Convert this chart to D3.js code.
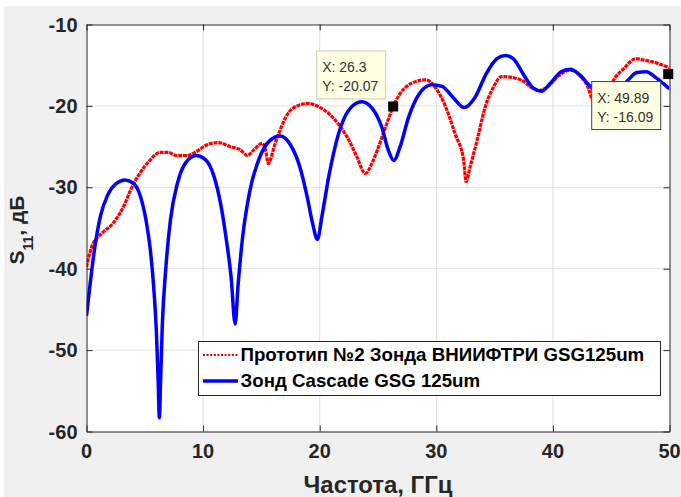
<!DOCTYPE html>
<html><head><meta charset="utf-8">
<script src="https://cdn.jsdelivr.net/npm/d3@7"></script>
<style>
html,body{margin:0;padding:0;background:#fff;}
svg{display:block;}
text{font-family:"Liberation Sans",Arial,sans-serif;}
</style></head>
<body>
<svg id="c" width="681" height="497"></svg>
<script>
// ---- data ----
const xTicks = [0, 10, 20, 30, 40, 50];
const yTicks = [-60, -50, -40, -30, -20, -10];
const seriesNames = ["Прототип №2 Зонда ВНИИФТРИ GSG125um", "Зонд Cascade GSG 125um"];
const xLabel = "Частота, ГГц";

// red: Прототип №2 (freq GHz, S11 dB)
const redF = [0,0.3,0.57,1.0,1.43,2.29,2.86,3.3,3.7,4.1,4.57,5.0,5.43,5.9,6.29,7.0,7.7,8.58,9.43,10.3,11.3,12.3,13.2,13.8,14.35,15.07,15.35,15.6,15.8,16.1,16.6,17.2,18.07,19.07,19.9,20.9,21.8,22.5,23.2,23.9,24.5,24.9,25.4,25.9,26.3,26.9,27.9,29.1,29.9,30.8,31.6,32.35,32.55,32.9,33.5,34.2,34.9,35.6,36.8,37.5,38.1,38.8,39.5,40.4,41.5,42.4,43.0,43.4,44.0,44.6,45.2,46.1,47.1,47.9,48.6,49.6,50];
const redV = [-39.8,-38,-36.9,-36.1,-35.5,-34.4,-33.2,-32,-30.6,-29.4,-28.3,-27.4,-26.7,-26.0,-25.7,-25.7,-26.1,-26.1,-25.6,-24.8,-24.5,-25.0,-25.4,-26.1,-25.4,-24.6,-25.4,-27.1,-26.5,-25.0,-23.0,-21.1,-20.0,-19.7,-20.1,-21.1,-22.6,-24.2,-26.3,-28.3,-27.0,-25.6,-23.6,-21.6,-20.07,-18.5,-17.2,-16.8,-17.7,-20.1,-23.4,-26.7,-29.3,-27.5,-24.2,-20.1,-17.7,-16.4,-16.6,-17.0,-17.7,-18.1,-17.7,-16.4,-15.6,-16.4,-17.7,-19.3,-20.0,-18.8,-16.85,-15.4,-14.2,-14.4,-14.6,-15.1,-15.3];

// blue: Зонд Cascade
const blueF = [0,0.3,0.7,1.2,1.8,2.5,3.3,4.0,4.6,5.1,5.5,5.8,6.0,6.15,6.25,6.35,6.5,6.8,7.2,7.8,8.5,9.4,10.2,10.9,11.5,12.0,12.4,12.75,13.0,13.4,14.0,14.8,15.7,16.6,17.5,18.3,18.9,19.4,19.8,20.2,20.8,21.6,22.5,23.6,24.5,25.3,25.9,26.35,26.9,27.6,28.5,29.6,30.5,31.4,32.4,33.3,34.3,35.2,35.9,36.6,37.5,38.3,39.0,39.8,40.7,41.5,42.3,43.2,44.0,44.8,45.6,46.4,47.2,48.0,48.8,49.5,50];
const blueV = [-45.8,-42,-37.5,-33.5,-31,-29.6,-29.1,-29.5,-31,-34,-38,-43,-48,-54,-58.3,-54,-47,-40,-34,-29.5,-27,-26.1,-26.6,-28.5,-32,-36.5,-41,-46.8,-42,-36,-30.5,-26.5,-24.3,-23.7,-24.8,-27.5,-31,-34.5,-36.4,-33.5,-28.5,-23.5,-20.5,-19.5,-20.3,-22.5,-25.5,-26.7,-25,-21.5,-18.6,-17.4,-17.6,-18.9,-20.2,-19,-16,-14.2,-13.8,-14.2,-16.2,-17.8,-18.2,-17.2,-15.8,-15.5,-16.2,-17.6,-18.6,-18.8,-18.2,-16.9,-15.9,-15.8,-16.5,-17.3,-17.9];

// data tips
const tipX = [26.3, 49.89];
const tipY = [-20.07, -16.09];

// ---- drawing ----
const svg = d3.select("#c");
const W = 681, H = 497;
const L = 86.5, R = 669.5, T = 24.5, B = 431.5;
const x = d3.scaleLinear().domain([0, 50]).range([L, R]);
const y = d3.scaleLinear().domain([-60, -10]).range([B, T]);
const ink = "#262626";

svg.append("rect").attr("width", W).attr("height", H).attr("fill", "#f0f0f0");
svg.append("rect").attr("width", W).attr("height", 6).attr("fill", "#fff");
svg.append("rect").attr("width", 4).attr("height", H).attr("fill", "#fff");
svg.append("rect").attr("x", L).attr("y", T).attr("width", R - L).attr("height", B - T).attr("fill", "#fff");

// grid
const g = svg.append("g");
g.selectAll(".gx").data(xTicks.slice(1, -1)).enter().append("line")
  .attr("x1", d => x(d)).attr("x2", d => x(d)).attr("y1", T).attr("y2", B)
  .attr("stroke", "#dfdfdf").attr("stroke-width", 1);
g.selectAll(".gy").data(yTicks.slice(1, -1)).enter().append("line")
  .attr("y1", d => y(d)).attr("y2", d => y(d)).attr("x1", L).attr("x2", R)
  .attr("stroke", "#dfdfdf").attr("stroke-width", 1);

// curves
svg.append("clipPath").attr("id", "clp").append("rect")
  .attr("x", L).attr("y", T).attr("width", R - L).attr("height", B - T);
const line = d3.line().x(d => x(d[0])).y(d => y(d[1])).curve(d3.curveMonotoneX);
const red = redF.map((f, i) => [f, redV[i]]);
const blue = blueF.map((f, i) => [f, blueV[i]]);
const cg = svg.append("g").attr("clip-path", "url(#clp)");
cg.append("path").attr("d", line(red)).attr("fill", "none").attr("stroke", "#ff0000")
  .attr("stroke-width", 3.2).attr("stroke-dasharray", "4,0.8").attr("stroke-linejoin", "round");
cg.append("path").attr("d", line(blue)).attr("fill", "none").attr("stroke", "#0000ff")
  .attr("stroke-width", 3.5).attr("stroke-linejoin", "round");

// axes box with inward ticks
const axB = d3.axisBottom(x).tickValues(xTicks).tickSizeInner(-6).tickSizeOuter(0).tickFormat("");
const axT = d3.axisTop(x).tickValues(xTicks).tickSizeInner(-6).tickSizeOuter(0).tickFormat("");
const axL = d3.axisLeft(y).tickValues(yTicks).tickSizeInner(-6).tickSizeOuter(0).tickFormat("");
const axR = d3.axisRight(y).tickValues(yTicks).tickSizeInner(-6).tickSizeOuter(0).tickFormat("");
[[axB, `translate(0,${B})`], [axT, `translate(0,${T})`], [axL, `translate(${L},0)`], [axR, `translate(${R},0)`]]
  .forEach(([a, tr]) => {
    const ga = svg.append("g").attr("transform", tr).call(a);
    ga.selectAll("path,line").attr("stroke", ink).attr("stroke-width", 1);
  });

// tick labels
svg.selectAll(".xl").data(xTicks).enter().append("text")
  .attr("x", d => x(d)).attr("y", B + 26).attr("text-anchor", "middle")
  .attr("font-size", 20).attr("font-weight", "bold").attr("fill", ink).text(d => d);
svg.selectAll(".yl").data(yTicks).enter().append("text")
  .attr("x", L - 9).attr("y", d => y(d) + 7).attr("text-anchor", "end")
  .attr("font-size", 20).attr("font-weight", "bold").attr("fill", ink).text(d => d);

// axis labels
const xl = svg.append("text").attr("x", (L + R) / 2).attr("y", 493).attr("text-anchor", "middle")
  .attr("font-size", 22).attr("font-weight", "bold").attr("fill", ink).text(xLabel);
const yl = svg.append("text").attr("transform", "translate(24,230) rotate(-90)")
  .attr("text-anchor", "middle").attr("font-size", 21).attr("font-weight", "bold").attr("fill", ink);
yl.append("tspan").text("S");
yl.append("tspan").attr("font-size", 14).attr("dy", 9).text("11");
yl.append("tspan").attr("dy", -9).text(", дБ");

// legend
const lg = svg.append("g");
lg.append("rect").attr("x", 198.5).attr("y", 341.5).attr("width", 462).attr("height", 54)
  .attr("fill", "#fff").attr("stroke", ink).attr("stroke-width", 1);
const rowY = [355, 381];
lg.append("line").attr("x1", 203).attr("x2", 238).attr("y1", rowY[0]).attr("y2", rowY[0])
  .attr("stroke", "#d40000").attr("stroke-width", 2.2).attr("stroke-dasharray", "2,1.6");
lg.append("line").attr("x1", 203).attr("x2", 238).attr("y1", rowY[1]).attr("y2", rowY[1])
  .attr("stroke", "#0000ff").attr("stroke-width", 3.5);
const lt = lg.selectAll(".lt").data(seriesNames).enter().append("text")
  .attr("x", 240.5).attr("y", (d, i) => rowY[i] + 6).attr("font-size", 17)
  .attr("font-weight", "bold").attr("fill", "#000").text(d => d);
// fit legend and x-label text widths to the reference
const w0 = lt.node().getComputedTextLength();
lt.attr("font-size", 17 * 404 / w0);
const wx = xl.node().getComputedTextLength();
xl.attr("font-size", 22 * 149 / wx);

// data tips
const tips = svg.append("g");
tipX.forEach((tx, i) => {
  const mx = x(tx), my = y(tipY[i]);
  const bx = mx - 77, by = i === 0 ? my - 56 : my + 7;
  tips.append("rect").attr("x", bx + 0.5).attr("y", by + 0.5).attr("width", 69).attr("height", 48)
    .attr("fill", "#ffffe1").attr("stroke", i === 0 ? "#c8c8c8" : "#404040").attr("stroke-width", 1);
  tips.append("text").attr("x", bx + 6).attr("y", by + 22).attr("font-size", 14).attr("fill", "#333")
    .text("X: " + tx);
  tips.append("text").attr("x", bx + 6).attr("y", by + 41).attr("font-size", 14).attr("fill", "#333")
    .text("Y: " + tipY[i].toFixed(2));
  tips.append("rect").attr("x", mx - 5).attr("y", my - 5).attr("width", 10).attr("height", 10)
    .attr("fill", "#000");
});
</script>
</body></html>
